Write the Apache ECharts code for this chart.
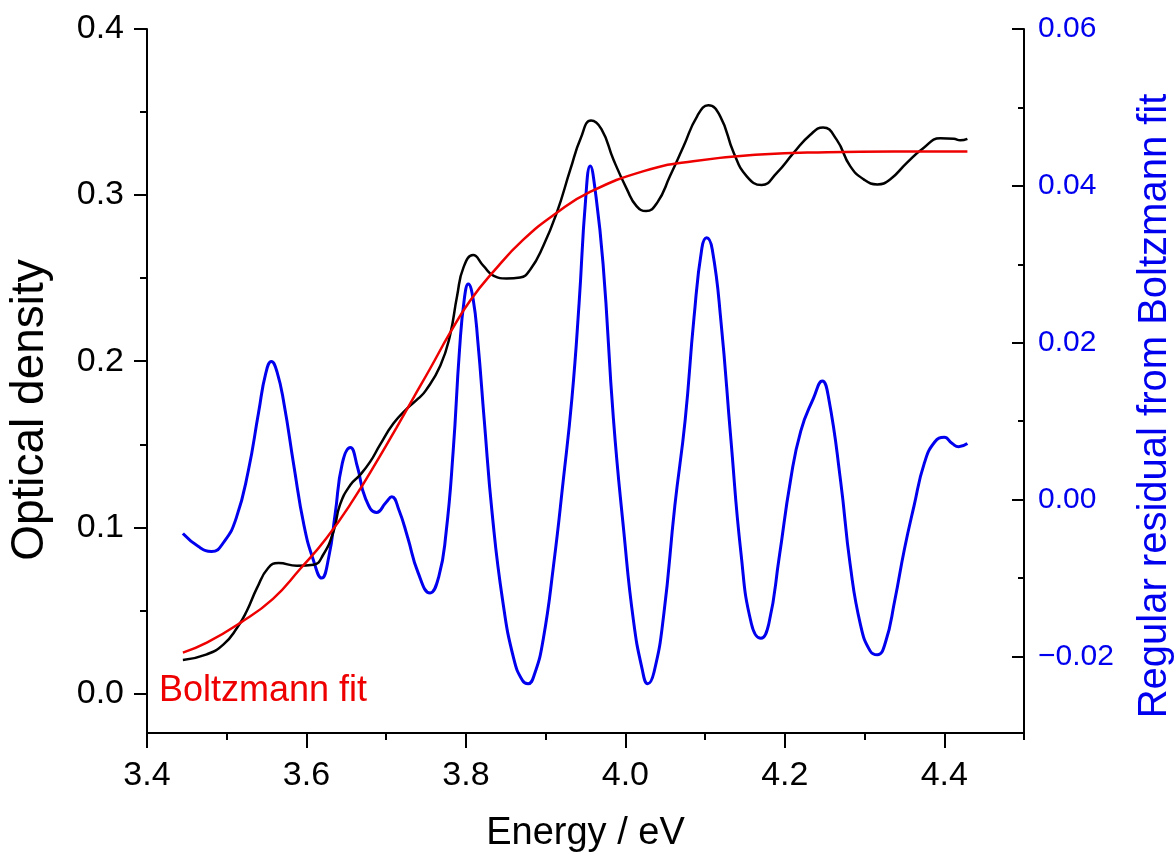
<!DOCTYPE html>
<html>
<head>
<meta charset="UTF-8">
<title>Optical density and Boltzmann fit</title>
<script src="https://cdn.jsdelivr.net/npm/echarts@6/dist/echarts.min.js"></script>
<style>
  html, body { margin: 0; padding: 0; background: #fff; }
  #box { width: 1175px; height: 858px; }
</style>
</head>
<body>
<div id="box"></div>
<script>
// measured optical density (left axis)
const odEnergy = [3.445, 3.475, 3.496, 3.513, 3.525, 3.538, 3.552, 3.565, 3.588, 3.609, 3.621, 3.634, 3.642, 3.655, 3.667, 3.680, 3.692, 3.709, 3.726, 3.740, 3.750, 3.768, 3.780, 3.789, 3.797, 3.809, 3.822, 3.835, 3.851, 3.868, 3.881, 3.897, 3.914, 3.931, 3.944, 3.957, 3.970, 3.985, 4.002, 4.014, 4.026, 4.040, 4.056, 4.073, 4.090, 4.104, 4.119, 4.136, 4.152, 4.171, 4.190, 4.211, 4.232, 4.248, 4.265, 4.282, 4.299, 4.316, 4.332, 4.353, 4.374, 4.395, 4.412, 4.420, 4.429];
const odValue = [0.0191, 0.0225, 0.0285, 0.0385, 0.0485, 0.0626, 0.0746, 0.0776, 0.0760, 0.0766, 0.0826, 0.0967, 0.1127, 0.1247, 0.1307, 0.1388, 0.1488, 0.1618, 0.1708, 0.1768, 0.1820, 0.1969, 0.2149, 0.2390, 0.2561, 0.2635, 0.2570, 0.2510, 0.2494, 0.2500, 0.2550, 0.2690, 0.2891, 0.3152, 0.3340, 0.3447, 0.3395, 0.3212, 0.3032, 0.2931, 0.2901, 0.2952, 0.3112, 0.3292, 0.3473, 0.3539, 0.3473, 0.3252, 0.3112, 0.3058, 0.3132, 0.3252, 0.3362, 0.3406, 0.3332, 0.3172, 0.3092, 0.3062, 0.3092, 0.3192, 0.3282, 0.3340, 0.3337, 0.3328, 0.3337];

// Boltzmann fit (left axis)
const fitEnergy = [3.445, 3.475, 3.517, 3.558, 3.592, 3.625, 3.659, 3.692, 3.713, 3.734, 3.755, 3.780, 3.805, 3.835, 3.872, 3.914, 3.954, 4.023, 4.085, 4.169, 4.253, 4.336, 4.429];
const fitValue = [0.0235, 0.0295, 0.0415, 0.0560, 0.0740, 0.0926, 0.1160, 0.1420, 0.1594, 0.1772, 0.1949, 0.2165, 0.2358, 0.2538, 0.2728, 0.2891, 0.3012, 0.3142, 0.3202, 0.3242, 0.3256, 0.3260, 0.3260];

// residual from the fit (right axis)
const resEnergy = [3.445, 3.465, 3.481, 3.497, 3.512, 3.527, 3.540, 3.549, 3.556, 3.563, 3.572, 3.584, 3.597, 3.609, 3.619, 3.628, 3.636, 3.645, 3.655, 3.664, 3.674, 3.688, 3.700, 3.707, 3.716, 3.727, 3.740, 3.755, 3.766, 3.775, 3.784, 3.792, 3.798, 3.803, 3.809, 3.815, 3.823, 3.833, 3.846, 3.860, 3.871, 3.878, 3.886, 3.897, 3.910, 3.922, 3.933, 3.942, 3.950, 3.956, 3.962, 3.972, 3.985, 3.998, 4.010, 4.021, 4.028, 4.036, 4.048, 4.062, 4.075, 4.086, 4.096, 4.102, 4.109, 4.120, 4.132, 4.145, 4.158, 4.170, 4.180, 4.193, 4.207, 4.220, 4.236, 4.247, 4.255, 4.270, 4.282, 4.295, 4.307, 4.316, 4.326, 4.338, 4.350, 4.362, 4.375, 4.388, 4.400, 4.410, 4.418, 4.429];
const resValue = [-0.0045, -0.0062, -0.0068, -0.0055, -0.0025, 0.0035, 0.0110, 0.0160, 0.0175, 0.0162, 0.0120, 0.0043, -0.0035, -0.0080, -0.0102, -0.0075, -0.0020, 0.0045, 0.0065, 0.0040, 0.0000, -0.0018, -0.0005, 0.0002, -0.0015, -0.0050, -0.0095, -0.0121, -0.0100, -0.0045, 0.0060, 0.0190, 0.0255, 0.0274, 0.0255, 0.0200, 0.0100, -0.0020, -0.0130, -0.0205, -0.0233, -0.0237, -0.0225, -0.0180, -0.0085, 0.0022, 0.0128, 0.0250, 0.0380, 0.0425, 0.0395, 0.0300, 0.0102, -0.0042, -0.0155, -0.0218, -0.0237, -0.0222, -0.0150, -0.0010, 0.0100, 0.0230, 0.0320, 0.0333, 0.0318, 0.0225, 0.0080, -0.0070, -0.0160, -0.0179, -0.0160, -0.0075, 0.0022, 0.0086, 0.0128, 0.0150, 0.0128, 0.0022, -0.0085, -0.0162, -0.0195, -0.0200, -0.0185, -0.0130, -0.0065, -0.0010, 0.0045, 0.0072, 0.0078, 0.0070, 0.0066, 0.0070];

const FONT = '"Liberation Sans", Arial, sans-serif';
const BLUE = '#0000ee';
const RED = '#ee0000';

function pairs(xs, ys) {
  return xs.map(function (x, i) { return [x, ys[i]]; });
}

// plot frame in pixels
const L = 147, T = 29, W = 877, H = 706;
const xMin = 3.4, xMax = 4.5;
const leftMin = -0.025, leftMax = 0.4;
const rightMin = -0.03, rightMax = 0.06;

const chart = echarts.init(document.getElementById('box'), null, { renderer: 'canvas' });

const hiddenX = function (g) { return { gridIndex: g, type: 'value', show: false, min: 0, max: 1 }; };
const hiddenY = function (g) { return { gridIndex: g, type: 'value', show: false, min: 0, max: 1 }; };
const blackLine = { show: true, onZero: false, lineStyle: { color: '#000', width: 2 } };
const noLine = { show: false, onZero: false };

const option = {
  animation: false,
  backgroundColor: '#fff',
  textStyle: { fontFamily: FONT },
  grid: [
    // data frame
    { left: L, top: T, width: W, height: H },
    // left labels 0 .. 0.4
    { left: L, top: T, width: W, height: H * (0.4 / (leftMax - leftMin)) },
    // right labels -0.02 .. 0.06
    { left: L, top: T, width: W, height: H * (0.08 / (rightMax - rightMin)) },
    // bottom labels 3.4 .. 4.4
    { left: L, top: T, width: W * (1.0 / (xMax - xMin)), height: H }
  ],
  xAxis: [
    {
      gridIndex: 0, type: 'value', min: xMin, max: xMax, interval: 0.1, position: 'bottom',
      axisLine: blackLine,
      axisTick: { show: true, length: 7, lineStyle: { color: '#000', width: 2 } },
      axisLabel: { show: false },
      splitLine: { show: false },
      name: 'Energy / eV', nameLocation: 'middle', nameGap: 82,
      nameTextStyle: { fontSize: 38, color: '#000', fontFamily: FONT }
    },
    hiddenX(1),
    hiddenX(2),
    {
      gridIndex: 3, type: 'value', min: 3.4, max: 4.4, interval: 0.2, position: 'bottom',
      axisLine: noLine,
      axisTick: { show: true, length: 13, lineStyle: { color: '#000', width: 2 } },
      axisLabel: {
        show: true, margin: 24, fontSize: 34, color: '#000', fontFamily: FONT,
        formatter: function (v) { return v.toFixed(1); }
      },
      splitLine: { show: false }
    }
  ],
  yAxis: [
    {
      gridIndex: 0, type: 'value', min: leftMin, max: leftMax, position: 'left',
      axisLine: blackLine, axisTick: { show: false }, axisLabel: { show: false },
      splitLine: { show: false }
    },
    {
      gridIndex: 0, type: 'value', min: rightMin, max: rightMax, position: 'right',
      axisLine: blackLine, axisTick: { show: false }, axisLabel: { show: false },
      splitLine: { show: false }
    },
    {
      gridIndex: 1, type: 'value', min: 0, max: 0.4, interval: 0.1, position: 'left',
      axisLine: noLine,
      axisTick: { show: true, length: 13, lineStyle: { color: '#000', width: 2 } },
      minorTick: { show: true, splitNumber: 2, length: 7, lineStyle: { color: '#000', width: 2 } },
      axisLabel: {
        margin: 23, fontSize: 34, color: '#000', fontFamily: FONT,
        formatter: function (v) { return v.toFixed(1); }
      },
      splitLine: { show: false }, minorSplitLine: { show: false }
    },
    {
      gridIndex: 2, type: 'value', min: -0.02, max: 0.06, interval: 0.02, position: 'right',
      axisLine: noLine,
      axisTick: { show: true, inside: true, length: 12, lineStyle: { color: '#000', width: 2 } },
      minorTick: { show: true, splitNumber: 2, length: 6, lineStyle: { color: '#000', width: 2 } },
      axisLabel: {
        margin: 14, fontSize: 30, color: BLUE, fontFamily: FONT,
        formatter: function (v) { return v < 0 ? '\u2212' + Math.abs(v).toFixed(2) : v.toFixed(2); }
      },
      splitLine: { show: false }, minorSplitLine: { show: false }
    },
    hiddenY(3)
  ],
  graphic: [
    {
      type: 'text', x: 30, y: 410, rotation: Math.PI / 2,
      style: { text: 'Optical density', fontSize: 46, fontFamily: FONT, fill: '#000', align: 'center', verticalAlign: 'middle' }
    },
    {
      type: 'text', x: 1155, y: 406, rotation: Math.PI / 2,
      style: { text: 'Regular residual from Boltzmann fit', fontSize: 40, fontFamily: FONT, fill: BLUE, align: 'center', verticalAlign: 'middle' }
    },
    {
      type: 'text', x: 159, y: 691,
      style: { text: 'Boltzmann fit', fontSize: 36, fontFamily: FONT, fill: RED, align: 'left', verticalAlign: 'middle' }
    }
  ],
  series: [
    {
      name: 'Residual', type: 'line', xAxisIndex: 0, yAxisIndex: 1,
      data: pairs(resEnergy, resValue), smooth: 0.5, showSymbol: false,
      lineStyle: { color: BLUE, width: 3 }
    },
    {
      name: 'Optical density', type: 'line', xAxisIndex: 0, yAxisIndex: 0,
      data: pairs(odEnergy, odValue), smooth: 0.5, showSymbol: false,
      lineStyle: { color: '#000', width: 2.5 }
    },
    {
      name: 'Boltzmann fit', type: 'line', xAxisIndex: 0, yAxisIndex: 0,
      data: pairs(fitEnergy, fitValue), smooth: 0.5, showSymbol: false,
      lineStyle: { color: RED, width: 2.5 }
    }
  ]
};

chart.setOption(option);
</script>
</body>
</html>
